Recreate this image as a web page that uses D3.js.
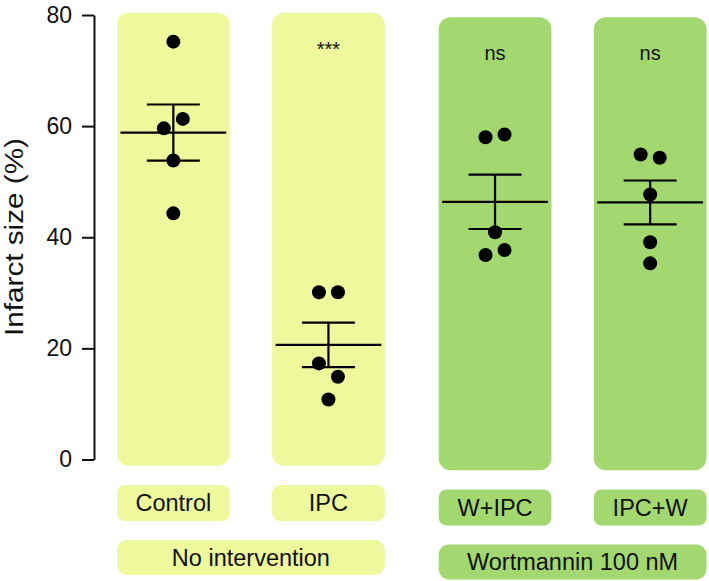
<!DOCTYPE html>
<html>
<head>
<meta charset="utf-8">
<script src="https://cdn.jsdelivr.net/npm/d3@7"></script>
<style>
  html, body { margin: 0; padding: 0; background: #fff; }
  svg { display: block; font-family: "Liberation Sans", Arial, sans-serif; }
</style>
</head>
<body>
<svg id="chart" width="709" height="581"></svg>
<script>
// ---- Data ----
const categories = ["Control", "IPC", "W+IPC", "IPC+W"];
const groupOf = ["No intervention", "No intervention", "Wortmannin 100 nM", "Wortmannin 100 nM"];
const groups = ["No intervention", "Wortmannin 100 nM"];
const controlValues = [75.2, 59.6, 61.3, 53.8, 44.3];
const ipcValues = [30.1, 30.1, 17.3, 14.9, 10.8];
const wIpcValues = [58.0, 58.5, 40.9, 36.8, 37.7];
const ipcWValues = [54.9, 54.3, 47.7, 39.1, 35.3];
const seriesValues = [controlValues, ipcValues, wIpcValues, ipcWValues];
const significance = ["", "***", "ns", "ns"];
const yTicks = [0, 20, 40, 60, 80];
const yLabel = "Infarct size (%)";

// ---- Layout ----
const svg = d3.select("#chart");
const yellow = "#eef89c", green = "#a3d770";
const groupColor = d3.scaleOrdinal().domain(groups).range([yellow, green]);
const groupShiftX = d3.scaleOrdinal().domain(groups).range([0, 11.5]);
const groupShiftY = d3.scaleOrdinal().domain(groups).range([0, 4.5]);

const y = d3.scaleLinear().domain([0, 80]).range([459.5, 15]);
const band = d3.scaleBand().domain(categories).range([117, 695]).paddingInner(0.2735).paddingOuter(0);
const xLeft = (c, i) => band(c) + groupShiftX(groupOf[i]);
const bw = band.bandwidth();

// panels
svg.append("g").selectAll("rect").data(categories).join("rect")
  .attr("x", (d, i) => xLeft(d, i))
  .attr("y", (d, i) => 12.7 + groupShiftY(groupOf[i]))
  .attr("width", bw)
  .attr("height", 453)
  .attr("rx", 12).attr("ry", 12)
  .attr("fill", (d, i) => groupColor(groupOf[i]));

// category label boxes
const lab = svg.append("g").selectAll("g").data(categories).join("g")
  .attr("transform", (d, i) => `translate(${xLeft(d, i)},${485 + groupShiftY(groupOf[i])})`);
lab.append("rect").attr("width", bw).attr("height", 36).attr("rx", 8)
  .attr("fill", (d, i) => groupColor(groupOf[i]));
lab.append("text").attr("x", bw / 2).attr("y", 18).attr("dy", "0.36em")
  .attr("text-anchor", "middle").attr("font-size", 23.5).attr("fill", "#111")
  .text(d => d);

// group label boxes
const grp = svg.append("g").selectAll("g").data(groups).join("g")
  .attr("transform", g => {
    const idx = groupOf.indexOf(g);
    return `translate(${xLeft(categories[idx], idx)},${540 + groupShiftY(g)})`;
  });
grp.append("rect")
  .attr("width", g => {
    const idx = groupOf.indexOf(g);
    const last = groupOf.lastIndexOf(g);
    return xLeft(categories[last], last) + bw - xLeft(categories[idx], idx);
  })
  .attr("height", 35).attr("rx", 10)
  .attr("fill", g => groupColor(g));
grp.append("text")
  .attr("x", g => {
    const idx = groupOf.indexOf(g);
    const last = groupOf.lastIndexOf(g);
    return (xLeft(categories[last], last) + bw - xLeft(categories[idx], idx)) / 2;
  })
  .attr("y", 17.5).attr("dy", "0.36em")
  .attr("text-anchor", "middle").attr("font-size", 23.5).attr("fill", "#111")
  .text(g => g);

// ---- Axis ----
const axis = d3.axisLeft(y).tickValues(yTicks).tickSize(12).tickPadding(10).tickSizeOuter(0);
const ag = svg.append("g").attr("transform", "translate(94,0)").call(axis);
ag.select(".domain").attr("stroke", "#111").attr("stroke-width", 2);
ag.selectAll(".tick line").attr("stroke", "#111").attr("stroke-width", 2);
ag.selectAll(".tick text").attr("font-size", 23).attr("fill", "#111")
  .attr("font-family", "'Liberation Sans', Arial, sans-serif");

svg.append("text")
  .attr("transform", "translate(23,237) rotate(-90)")
  .attr("text-anchor", "middle").attr("font-size", 25).attr("fill", "#111")
  .attr("textLength", 198).attr("lengthAdjust", "spacingAndGlyphs")
  .text(yLabel);

// ---- Data marks ----
const r = 7, dx = 9.5;
categories.forEach((c, i) => {
  const vals = seriesValues[i];
  const cx = xLeft(c, i) + bw / 2;
  // simple beeswarm: cluster vertically overlapping points
  const order = d3.range(vals.length).sort((a, b) => d3.descending(vals[a], vals[b]) || a - b);
  const offsets = new Array(vals.length).fill(0);
  let cluster = [order[0]];
  const flush = () => {
    const sorted = cluster.slice().sort((a, b) => a - b);
    sorted.forEach((k, j) => { offsets[k] = (j - (sorted.length - 1) / 2) * 2 * dx; });
  };
  for (let k = 1; k < order.length; k++) {
    const prev = cluster[cluster.length - 1];
    if (Math.abs(y(vals[order[k]]) - y(vals[prev])) < 2 * r + 1) cluster.push(order[k]);
    else { flush(); cluster = [order[k]]; }
  }
  flush();

  const m = d3.mean(vals);
  const sem = d3.deviation(vals) / Math.sqrt(vals.length);
  const g = svg.append("g").attr("stroke", "#000").attr("stroke-width", 2.2);
  // mean line
  g.append("line").attr("x1", xLeft(c, i) + 3.5).attr("x2", xLeft(c, i) + bw - 3.5)
    .attr("y1", y(m)).attr("y2", y(m));
  // error bar
  g.append("line").attr("x1", cx).attr("x2", cx).attr("y1", y(m + sem)).attr("y2", y(m - sem));
  [m + sem, m - sem].forEach(v => {
    g.append("line").attr("x1", cx - 26.5).attr("x2", cx + 26.5).attr("y1", y(v)).attr("y2", y(v));
  });
  // dots
  svg.append("g").selectAll("circle").data(vals).join("circle")
    .attr("cx", (d, k) => cx + offsets[k])
    .attr("cy", d => y(d))
    .attr("r", r).attr("fill", "#000");

  // significance
  if (significance[i]) {
    const isStars = significance[i] === "***";
    svg.append("text").attr("x", cx).attr("y", isStars ? 43.5 : 53)
      .attr("dy", isStars ? "0.6em" : "0.36em")
      .attr("text-anchor", "middle").attr("font-size", 20).attr("fill", "#111")
      .text(significance[i]);
  }
});
</script>
</body>
</html>
